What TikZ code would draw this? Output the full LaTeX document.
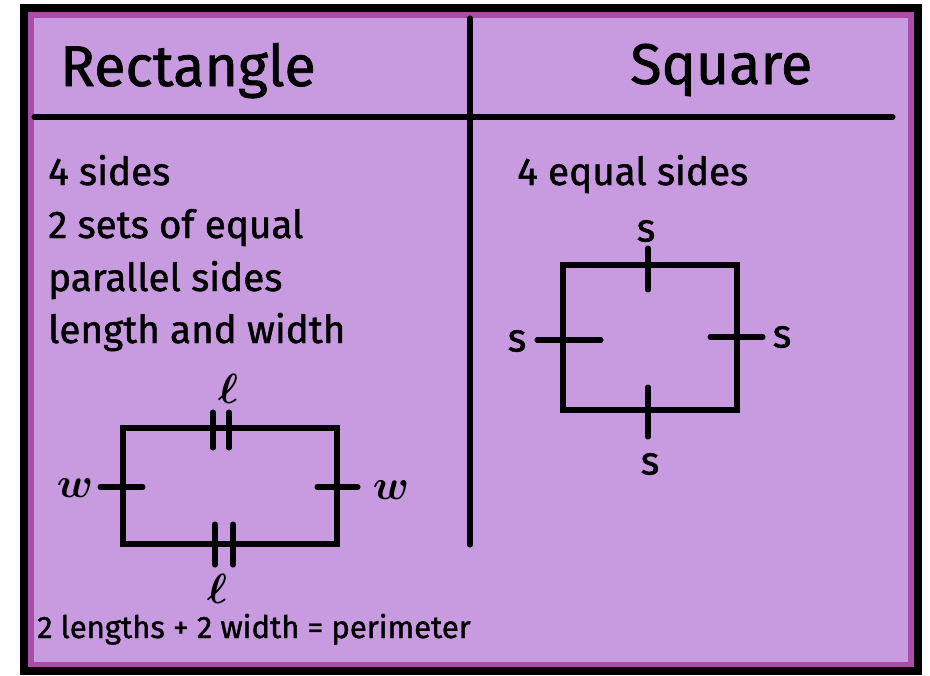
\documentclass[tikz,border=0pt]{standalone}
\usepackage{fix-cm}
\usepackage{fontspec}
\setmainfont{Fira Sans}[FakeBold=1.2]
\definecolor{cardfill}{RGB}{200,155,225}
\definecolor{cardedge}{RGB}{168,78,168}
\newcommand{\fsz}[1]{\fontsize{#1}{#1}\selectfont}

\begin{document}
\begin{tikzpicture}[x=0.03cm, y=-0.03cm,
    heavy/.style={line width=4.3pt},
    tick/.style={line width=4.3pt, line cap=round},
    title/.style={anchor=base west, inner sep=0pt, font=\fsz{49}},
    body/.style={anchor=base west, inner sep=0pt, font=\fsz{33}},
    side/.style={inner sep=0pt, font=\fsz{34}},
    letter/.style={inner sep=0pt, font=\fsz{36}\boldmath}]
    % ==== CARD ====
    \useasboundingbox (0,0) rectangle (930,675);
    \fill[cardfill] (24,8) rectangle (918,671);
    \draw[cardedge, line width=5.1pt] (31,15) rectangle (911,665);
    \draw[line width=6.8pt] (24,8) rectangle (918,671);

    % ==== RULES ====
    \draw[heavy, line cap=round] (34,117) -- (893,117);
    \draw[heavy, line cap=round] (470,18) -- (470,545);

    % ==== RECTANGLE ====
    \node[title] (rectTitle) at (60,86) {Rectangle};
    \node[body] (rectA) at (48,185) {4 sides};
    \node[body] (rectB) at (48,238) {2 sets of equal};
    \node[body] (rectC) at (48,291) {parallel sides};
    \node[body] (rectD) at (48,343) {length and width};

    \draw[heavy] (123,428) rectangle (337,544);
    \foreach \x in {213,229} \draw[tick] (\x,412) -- (\x,448);
    \foreach \x in {215,233} \draw[tick] (\x,524) -- (\x,565);
    \draw[tick] (100,487) -- (143,487);
    \draw[tick] (317,487) -- (358,487);
    \node[letter] (lenTop) at (228,389) {$\ell$};
    \node[letter] (lenBot) at (217,589) {$\ell$};
    \node[letter] (widL) at (75,488) {$w$};
    \node[letter] (widR) at (391,490) {$w$};
    \node[anchor=base west, inner sep=0pt, font=\fsz{26.5}] (perim) at (37,638)
        {2 lengths + 2 width = perimeter};

    % ==== SQUARE ====
    \node[title] (sqTitle) at (630,84) {Square};
    \node[body] (sqA) at (517,185) {4 equal sides};

    \draw[heavy] (563,265) rectangle (737,410);
    \draw[tick] (648,248) -- (648,290);
    \draw[tick] (648,387) -- (648,437);
    \draw[tick] (537,340) -- (601,340);
    \draw[tick] (710,337) -- (763,337);
    \node[side] (sTop) at (646,231) {s};
    \node[side] (sBot) at (650,464) {s};
    \node[side] (sLeft) at (517,341) {s};
    \node[side] (sRight) at (782,337) {s};

\end{tikzpicture}
\end{document}
